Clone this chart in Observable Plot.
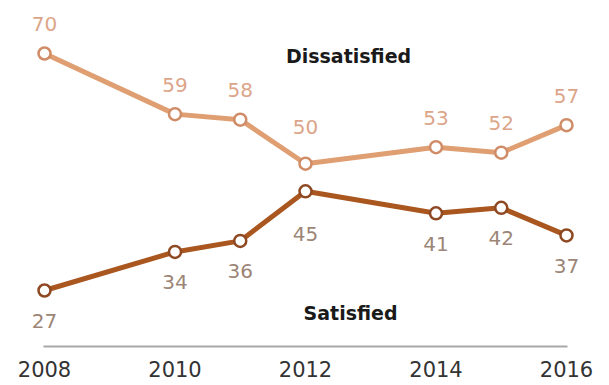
<!DOCTYPE html>
<html>
<head>
<meta charset="utf-8">
<script src="https://cdn.jsdelivr.net/npm/d3@7"></script>
<script src="https://cdn.jsdelivr.net/npm/@observablehq/plot@0.6"></script>
<style>
  html, body { margin: 0; padding: 0; background: #fff; }
  #chart svg { display: block; }
</style>
</head>
<body>
<div id="chart"></div>
<script>
const years = [2008, 2010, 2011, 2012, 2014, 2015, 2016];
const dissatisfied = [70, 59, 58, 50, 53, 52, 57];
const satisfied = [27, 34, 36, 45, 41, 42, 37];
const tickYears = [2008, 2010, 2012, 2014, 2016];
const seriesNames = ["Dissatisfied", "Satisfied"];

const dis = years.map((y, i) => ({year: y, value: dissatisfied[i]}));
const sat = years.map((y, i) => ({year: y, value: satisfied[i]}));

const disLine = "#df9f72", satLine = "#a9561f";
const disText = "#dca58a", satText = "#9c8576";
const font = "DejaVu Sans, Verdana, sans-serif";

const chart = Plot.plot({
  width: 609,
  height: 385,
  marginLeft: 44,
  marginRight: 43,
  marginTop: 0,
  marginBottom: 39,
  style: {fontFamily: font, background: "#fff"},
  x: {domain: [2008, 2016], range: [44, 566]},
  y: {domain: [27, 70], range: [290, 53], axis: null},
  marks: [
    Plot.frame({anchor: "bottom", stroke: "#a8a8a8", strokeWidth: 2, strokeOpacity: 1}),
    Plot.axisX({ticks: tickYears, tickFormat: d => String(d), tickSize: 0, tickPadding: 16,
      fontSize: 21, fill: "#333", label: null}),
    Plot.line(dis, {x: "year", y: "value", stroke: disLine, strokeWidth: 5}),
    Plot.line(sat, {x: "year", y: "value", stroke: satLine, strokeWidth: 5}),
    Plot.dot(dis, {x: "year", y: "value", r: 6, fill: "#fff", stroke: "#cf8c66", strokeWidth: 2.5}),
    Plot.dot(sat, {x: "year", y: "value", r: 6, fill: "#fff", stroke: "#8e4822", strokeWidth: 2.5}),
    Plot.text(dis.filter(d => d.year !== 2012), {x: "year", y: "value", text: "value", dy: -29, fill: disText, fontSize: 20}),
    Plot.text(dis.filter(d => d.year === 2012), {x: "year", y: "value", text: "value", dy: -36, fill: disText, fontSize: 20}),
    Plot.text(sat.filter(d => d.year !== 2012), {x: "year", y: "value", text: "value", dy: 31, fill: satText, fontSize: 20}),
    Plot.text(sat.filter(d => d.year === 2012), {x: "year", y: "value", text: "value", dy: 43, fill: satText, fontSize: 20}),
    Plot.text([seriesNames[0]], {x: 2012.66, y: 69.4, text: d => d, fontWeight: "bold", fontSize: 19, fill: "#1a1a1a"}),
    Plot.text([seriesNames[1]], {x: 2012.69, y: 22.8, text: d => d, fontWeight: "bold", fontSize: 19, fill: "#1a1a1a", clip: false})
  ]
});
document.getElementById("chart").appendChild(chart);
</script>
</body>
</html>
